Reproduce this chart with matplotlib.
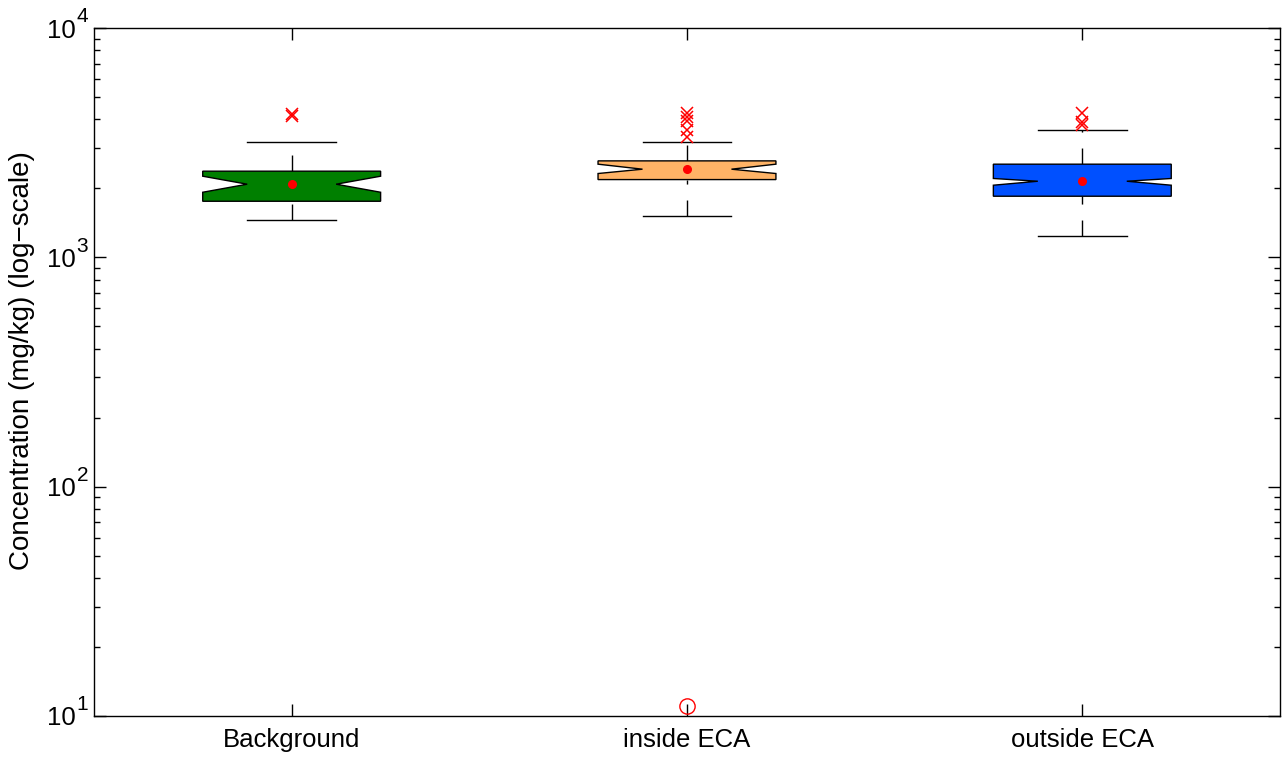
import matplotlib
matplotlib.use("Agg")
import matplotlib.pyplot as plt
from matplotlib.ticker import LogLocator, NullFormatter, FixedLocator, FixedFormatter

plt.rcParams["font.family"] = ["Liberation Sans", "DejaVu Sans"]

# group names and summary stats (mg/kg)
groups = ["Background", "inside ECA", "outside ECA"]
box_colors = ["#007f00", "#ffb366", "#0050ff"]
q1 = [1756, 2183, 1847]
med = [2084, 2423, 2147]
q3 = [2375, 2634, 2548]
ci_lo = [1922, 2320, 2063]
ci_hi = [2258, 2548, 2207]
whis_lo = [1451, 1515, 1235]
whis_hi = [3177, 3190, 3585]
means = [2084, 2423, 2147]
fliers = [
    [4200, 4120],
    [4255, 4085, 3926, 3585, 3342],
    [4255, 3899, 3771],
]
# far low outlier (drawn as open circle)
low_pos = [2]
low_vals = [11]
# y decades shown as 10^k
decades = [1, 2, 3, 4]

stats = []
for i, g in enumerate(groups):
    stats.append(dict(label=g, q1=q1[i], med=med[i], q3=q3[i],
                      cilo=ci_lo[i], cihi=ci_hi[i],
                      whislo=whis_lo[i], whishi=whis_hi[i],
                      mean=means[i], fliers=fliers[i]))

fig = plt.figure(figsize=(12.86, 7.57), dpi=100)
ax = fig.add_axes([0.0731, 0.0542, 0.9222, 0.9088])

pos = [1, 2, 3]
bp = ax.bxp(stats, positions=pos, widths=0.45, shownotches=True, patch_artist=True,
            showmeans=True,
            boxprops=dict(edgecolor="black", linewidth=1),
            medianprops=dict(linewidth=0),
            whiskerprops=dict(color="black", linewidth=1, linestyle=(0, (11.5, 11.5))),
            capprops=dict(color="black", linewidth=1),
            flierprops=dict(marker="x", markeredgecolor="red", markersize=8.5,
                            markeredgewidth=1.1, linestyle="none"),
            meanprops=dict(marker="o", markerfacecolor="red", markeredgecolor="red",
                           markersize=5.5))
for patch, c in zip(bp["boxes"], box_colors):
    patch.set_facecolor(c)
# whiskers drawn from the bottom end upward, like the original
for w in bp["whiskers"][0::2]:
    w.set_ydata(w.get_ydata()[::-1])
for w in bp["whiskers"]:
    w.set_zorder(1)

ax.plot(low_pos, low_vals, linestyle="none", marker="o", markerfacecolor="none",
        markeredgecolor="red", markersize=11, markeredgewidth=1, zorder=5, clip_on=False)

ax.set_yscale("log")
ax.set_ylim(10, 1e4)
ax.set_xlim(0.5, 3.5)
ax.set_xticks(pos)
ax.set_xticklabels(groups)
yt = [10.0 ** k for k in decades]
ax.yaxis.set_major_locator(FixedLocator(yt))
ax.yaxis.set_major_formatter(FixedFormatter(["10"] * len(yt)))
ax.yaxis.set_minor_locator(LogLocator(base=10, subs=range(2, 10), numticks=20))
ax.yaxis.set_minor_formatter(NullFormatter())
ax.tick_params(which="both", direction="in", top=True, right=True, labelsize=18.5, width=1)
ax.tick_params(which="major", length=8.6, pad=8.5)
ax.tick_params(axis="y", which="major", pad=13.5)
ax.tick_params(which="minor", length=4.3)
for s in ax.spines.values():
    s.set_linewidth(1)

# MATLAB-style exponents next to the "10" tick labels
for k, v in zip(decades, yt):
    ax.annotate(str(k), xy=(0, v), xycoords=ax.get_yaxis_transform(),
                xytext=(-12.5, 8), textcoords="offset points",
                ha="left", va="center", fontsize=15)

ax.set_ylabel("Concentration (mg/kg) (log\u2212scale)", fontsize=20, labelpad=8)
ax.yaxis.label.set_y(0.516)

fig.savefig("out.png", dpi=100)
